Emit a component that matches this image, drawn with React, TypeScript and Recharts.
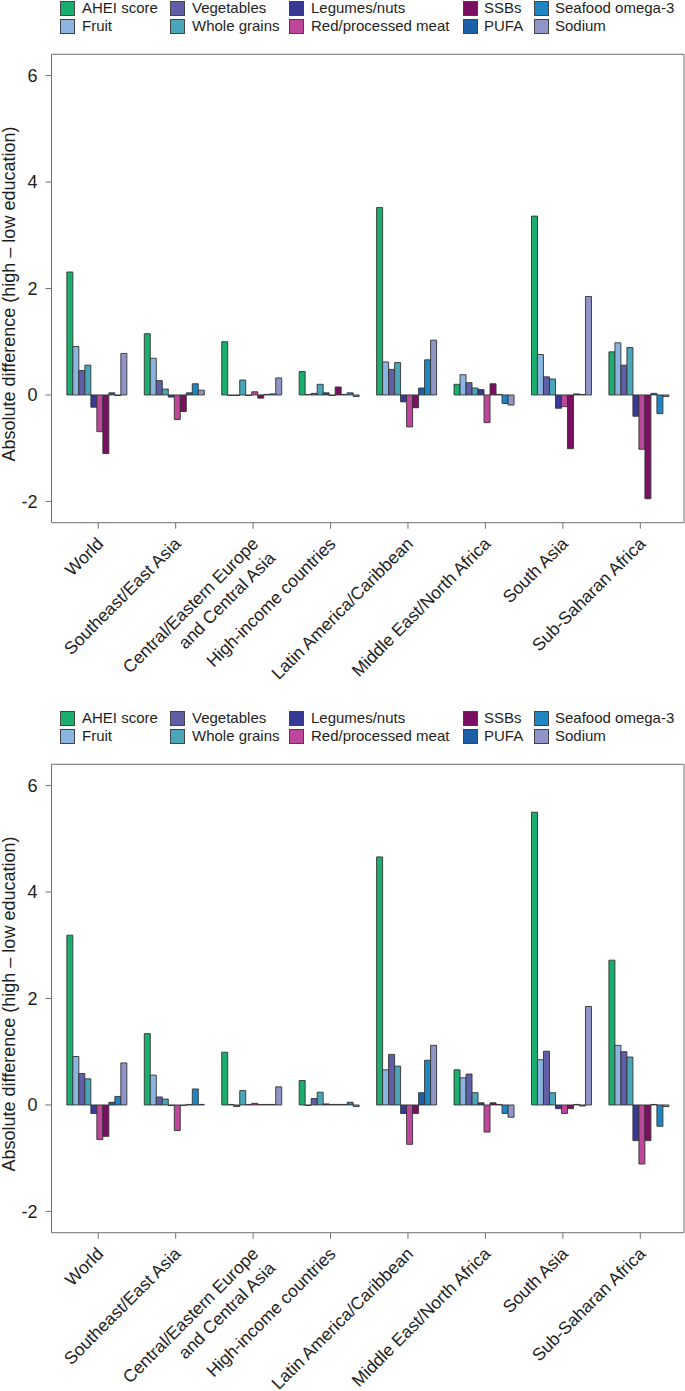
import { BarChart, Bar, XAxis, YAxis } from "recharts";

// categories (the \n marks the two-line label)
const regions = [
  "World",
  "Southeast/East Asia",
  "Central/Eastern Europe\nand Central Asia",
  "High-income countries",
  "Latin America/Caribbean",
  "Middle East/North Africa",
  "South Asia",
  "Sub-Saharan Africa",
];

const seriesKeys = ["ahei", "fruit", "veg", "grains", "legumes", "meat", "ssb", "pufa", "seafood", "sodium"];
const seriesNames = [
  "AHEI score",
  "Fruit",
  "Vegetables",
  "Whole grains",
  "Legumes/nuts",
  "Red/processed meat",
  "SSBs",
  "PUFA",
  "Seafood omega-3",
  "Sodium",
];
const seriesColors = [
  "#1aae6f",
  "#8bb5e0",
  "#615ea8",
  "#49a6b8",
  "#373a95",
  "#bf479b",
  "#7b0f62",
  "#1c5fa9",
  "#1d86c3",
  "#9095c8",
];

const yTicks = [-2, 0, 2, 4, 6];

// upper panel, one array per series (order follows regions)
const aheiA = [2.31, 1.15, 1.0, 0.44, 3.52, 0.2, 3.36, 0.81];
const fruitA = [0.91, 0.69, -0.01, 0.01, 0.62, 0.38, 0.76, 0.98];
const vegA = [0.46, 0.27, -0.01, 0.03, 0.48, 0.23, 0.34, 0.56];
const grainsA = [0.56, 0.11, 0.28, 0.2, 0.61, 0.13, 0.3, 0.89];
const legumesA = [-0.23, -0.04, -0.01, 0.04, -0.13, 0.1, -0.25, -0.4];
const meatA = [-0.69, -0.46, 0.06, -0.01, -0.6, -0.52, -0.22, -1.02];
const ssbA = [-1.1, -0.31, -0.06, 0.15, -0.24, 0.21, -1.01, -1.95];
const pufaA = [0.04, 0.04, 0.01, 0.01, 0.13, 0.01, 0.02, 0.03];
const seafoodA = [-0.01, 0.21, 0.02, 0.04, 0.66, -0.16, 0.01, -0.35];
const sodiumA = [0.78, 0.09, 0.32, -0.03, 1.03, -0.19, 1.85, -0.03];

// lower panel
const aheiB = [3.19, 1.34, 0.99, 0.46, 4.66, 0.66, 5.5, 2.72];
const fruitB = [0.91, 0.56, 0.01, -0.01, 0.66, 0.51, 0.85, 1.12];
const vegB = [0.59, 0.15, -0.03, 0.12, 0.95, 0.58, 1.01, 1.0];
const grainsB = [0.49, 0.11, 0.27, 0.24, 0.73, 0.23, 0.23, 0.9];
const legumesB = [-0.16, -0.01, 0.01, 0.02, -0.16, 0.04, -0.07, -0.67];
const meatB = [-0.65, -0.48, 0.03, 0.01, -0.74, -0.51, -0.16, -1.11];
const ssbB = [-0.59, -0.01, 0.01, 0.01, -0.16, 0.04, -0.07, -0.67];
const pufaB = [0.05, 0.01, 0.01, 0.01, 0.23, 0.01, 0.01, 0.01];
const seafoodB = [0.16, 0.3, 0.01, 0.05, 0.84, -0.16, -0.02, -0.4];
const sodiumB = [0.79, 0.01, 0.34, -0.03, 1.12, -0.23, 1.85, -0.03];

const buildRows = (cols: number[][]) =>
  regions.map((region, i) => {
    const row: Record<string, string | number> = { region };
    seriesKeys.forEach((k, s) => {
      row[k] = cols[s][i];
    });
    return row;
  });

const rowsA = buildRows([aheiA, fruitA, vegA, grainsA, legumesA, meatA, ssbA, pufaA, seafoodA, sodiumA]);
const rowsB = buildRows([aheiB, fruitB, vegB, grainsB, legumesB, meatB, ssbB, pufaB, seafoodB, sodiumB]);

const FONT = '"Liberation Sans", Arial, Helvetica, sans-serif';
const AXIS = "#707070";
const INK = "#1e1e1e";

// legend layout: 5 columns x 2 rows
const legendSwatchX = [60, 169.5, 288.5, 463, 534];
const legendTextX = [82, 192, 311, 484, 555];

const ChartLegend = () => (
  <div style={{ position: "absolute", left: 0, top: 0, width: 685, height: 36, fontFamily: FONT, fontSize: 15, color: INK }}>
    {seriesNames.map((name, i) => {
      const col = Math.floor(i / 2);
      const row = i % 2;
      return (
        <div key={name}>
          <div
            style={{
              position: "absolute",
              left: legendSwatchX[col],
              top: 1 + row * 18,
              width: 13,
              height: 13,
              background: seriesColors[i],
              border: "1px solid #444",
            }}
          />
          <div style={{ position: "absolute", left: legendTextX[col], top: row * 18, lineHeight: "16px", whiteSpace: "nowrap" }}>
            {name}
          </div>
        </div>
      );
    })}
  </div>
);

const RegionTick = ({ x, y, payload }: any) => {
  const lines = String(payload.value).split("\n");
  return (
    <g transform={`translate(${x + 2},${y + 10}) rotate(-45)`}>
      {lines.map((line, i) => (
        <text
          key={i}
          x={i * 2}
          y={i * 22}
          textAnchor="end"
          dominantBaseline="central"
          fontSize={17.5}
          fontFamily={FONT}
          fill={INK}
        >
          {line}
        </text>
      ))}
    </g>
  );
};

const YTitle = () => (
  <text
    x={9}
    y={294}
    transform="rotate(-90, 9, 294)"
    textAnchor="middle"
    dominantBaseline="central"
    fontSize={18}
    fontFamily={FONT}
    fill={INK}
  >
    Absolute difference (high – low education)
  </text>
);

const Panel = ({ rows, top }: { rows: Record<string, string | number>[]; top: number }) => (
  <div style={{ position: "absolute", left: 0, top, width: 685, height: 681 }}>
    <ChartLegend />
    <BarChart
      width={685}
      height={681}
      data={rows}
      margin={{ top: 53.3, right: 0, left: 0, bottom: 8.3 }}
      barGap={0}
      barCategoryGap={7.35}
    >
      <XAxis
        dataKey="region"
        type="category"
        height={150}
        interval={0}
        padding={{ left: 8, right: 5 }}
        axisLine={{ stroke: AXIS }}
        tickLine={{ stroke: AXIS }}
        tickSize={6}
        tick={<RegionTick />}
      />
      {/* top and right axes only close the plot frame */}
      <XAxis
        xAxisId="top"
        dataKey="region"
        orientation="top"
        height={1}
        padding={{ left: 8, right: 5 }}
        tick={false}
        tickLine={false}
        axisLine={{ stroke: AXIS }}
      />
      <YAxis
        type="number"
        domain={[-2.4, 6.4]}
        ticks={yTicks}
        width={51.5}
        allowDataOverflow
        axisLine={{ stroke: AXIS }}
        tickLine={{ stroke: AXIS }}
        tickSize={6}
        tickMargin={8}
        tick={{ fontSize: 18, fill: INK, fontFamily: FONT }}
        label={<YTitle />}
      />
      <YAxis
        yAxisId="right"
        orientation="right"
        type="number"
        domain={[-2.4, 6.4]}
        width={1}
        tick={false}
        tickLine={false}
        axisLine={{ stroke: AXIS }}
      />
      {seriesKeys.map((k, i) => (
        <Bar
          key={k}
          dataKey={k}
          name={seriesNames[i]}
          fill={seriesColors[i]}
          stroke="#333"
          strokeWidth={0.9}
          isAnimationActive={false}
        />
      ))}
    </BarChart>
  </div>
);

export default function App() {
  return (
    <div style={{ position: "absolute", left: 0, top: 0, width: 685, height: 1391, background: "#fff" }}>
      <Panel rows={rowsA} top={0} />
      <Panel rows={rowsB} top={709.5} />
    </div>
  );
}
